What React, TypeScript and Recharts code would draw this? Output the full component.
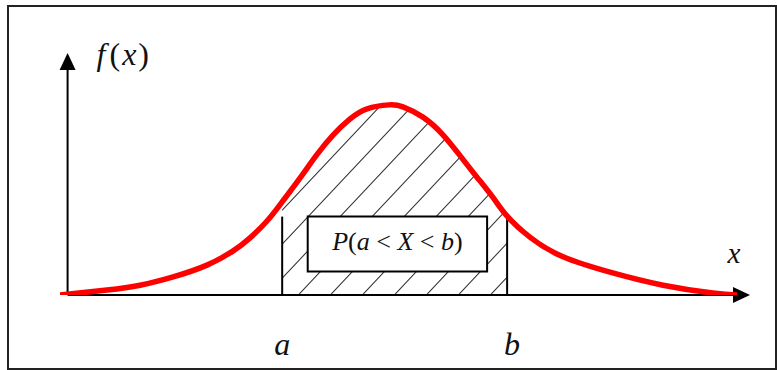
import React from "react";
import { ComposedChart, Line, Area, XAxis, YAxis, ReferenceLine, ReferenceArea } from "recharts";

// density curve f(x), sampled along x in [0, 10]
const xs = [0, 0.68, 1.16, 1.64, 2.13, 2.51, 2.75, 3.0, 3.22, 3.48, 3.72, 3.96, 4.2, 4.45, 4.77, 4.97, 5.26, 5.55, 5.8, 6.04, 6.28, 6.48, 6.81, 7.29, 8.01, 8.74, 9.46, 9.81];
const fx = [0, 0.01, 0.02, 0.037, 0.061, 0.09, 0.116, 0.151, 0.19, 0.239, 0.286, 0.327, 0.359, 0.38, 0.388, 0.384, 0.363, 0.327, 0.284, 0.241, 0.198, 0.161, 0.118, 0.078, 0.045, 0.02, 0.004, 0];

// interval bounds and their tick names
const bounds = [3.22, 6.48];
const boundNames = ["a", "b"];
const boundNudge = [0, 5];
// heights of the vertical edges at a and b
const edgeHeights = [0.16, 0.161];

// probability label box (x range, y range)
const boxX = [3.59, 6.19];
const boxY = [0.048, 0.16];

const xDomain = [0, 10];
const yDomain = [0, 0.5];
const axisStart = 0.11;
const yAxisTop = 0.494;

const [a, b] = bounds;
const data = xs.map((x, i) => ({
    x,
    f: fx[i],
    shade: x >= a && x <= b ? fx[i] : null,
}));

const FONT = "'Liberation Serif', 'DejaVu Serif', serif";

function YArrow(props: any) {
    const { x1, y1, y2 } = props;
    return (
        <g>
            <line x1={x1} y1={y1} x2={x1} y2={y2 + 14} stroke="#000" strokeWidth={2} />
            <polygon points={`${x1},${y2} ${x1 - 8},${y2 + 17} ${x1 + 8},${y2 + 17}`} fill="#000" />
            <text x={x1 + 29} y={y2 + 12} fontFamily={FONT} fontSize={32} fill="#111">
                <tspan fontStyle="italic">f</tspan>
                <tspan dx={4}>(</tspan>
                <tspan dx={2} fontStyle="italic">x</tspan>
                <tspan dx={2}>)</tspan>
            </text>
        </g>
    );
}

function XArrow(props: any) {
    const { x1, y1, x2 } = props;
    return (
        <g>
            <line x1={x1} y1={y1} x2={x2 - 14} y2={y1} stroke="#000" strokeWidth={2} />
            <polygon points={`${x2},${y1} ${x2 - 17},${y1 - 8} ${x2 - 17},${y1 + 8}`} fill="#000" />
            <text x={x2 - 16} y={y1 - 32} textAnchor="middle" fontFamily={FONT} fontStyle="italic" fontSize={29} fill="#111">
                x
            </text>
        </g>
    );
}

function BoundTick(props: any) {
    const { x, y, index } = props;
    return (
        <text x={x + boundNudge[index]} y={y + 60} textAnchor="middle" fontFamily={FONT} fontStyle="italic" fontSize={32} fill="#111">
            {boundNames[index]}
        </text>
    );
}

function BoxLabel(props: any) {
    const { x, y, width, height } = props.viewBox;
    return (
        <text x={x + width / 2} y={y + height / 2 + 6} textAnchor="middle" fontFamily={FONT} fontSize={26} fill="#111">
            <tspan fontStyle="italic">P</tspan>
            <tspan>(</tspan>
            <tspan fontStyle="italic">a</tspan>
            <tspan> &lt; </tspan>
            <tspan fontStyle="italic">X</tspan>
            <tspan> &lt; </tspan>
            <tspan fontStyle="italic">b</tspan>
            <tspan>)</tspan>
        </text>
    );
}

export default function App() {
    return (
        <div style={{ position: "absolute", left: 0, top: 0, width: 777, height: 370, background: "#fff" }}>
            <div style={{ position: "absolute", left: 7, top: 5, width: 766, height: 361, border: "2px solid #222" }} />
            <ComposedChart
                width={777}
                height={370}
                data={data}
                margin={{ top: 50, right: 27, bottom: 0, left: 60 }}
                style={{ position: "absolute", left: 0, top: 0 }}
            >
                <defs>
                    <pattern id="hatch" patternUnits="userSpaceOnUse" width="32" height="34">
                        <path d="M-3.2,37.4 L35.2,-3.4 M-3.2,3.4 L3.2,-3.4 M28.8,37.4 L35.2,30.6" stroke="#333" strokeWidth={1.1} />
                    </pattern>
                </defs>
                <XAxis
                    type="number"
                    dataKey="x"
                    domain={xDomain}
                    ticks={bounds}
                    height={75}
                    axisLine={false}
                    tickLine={false}
                    tickSize={0}
                    tickMargin={0}
                    tick={<BoundTick />}
                    allowDataOverflow
                />
                <YAxis type="number" domain={yDomain} hide allowDataOverflow />
                <Area
                    dataKey="shade"
                    type="natural"
                    fill="url(#hatch)"
                    fillOpacity={1}
                    stroke="none"
                    baseValue={0}
                    isAnimationActive={false}
                />
                {bounds.map((v, i) => (
                    <ReferenceLine
                        key={boundNames[i]}
                        segment={[
                            { x: v, y: 0 },
                            { x: v, y: edgeHeights[i] },
                        ]}
                        stroke="#000"
                        strokeWidth={2}
                    />
                ))}
                <ReferenceArea
                    x1={boxX[0]}
                    x2={boxX[1]}
                    y1={boxY[0]}
                    y2={boxY[1]}
                    fill="#fff"
                    fillOpacity={1}
                    stroke="#000"
                    strokeWidth={2}
                    label={BoxLabel}
                />
                <ReferenceLine
                    segment={[
                        { x: axisStart, y: 0 },
                        { x: axisStart, y: yAxisTop },
                    ]}
                    shape={YArrow}
                />
                <ReferenceLine
                    segment={[
                        { x: axisStart, y: 0 },
                        { x: xDomain[1], y: 0 },
                    ]}
                    shape={XArrow}
                />
                <Line dataKey="f" type="natural" stroke="#ff0000" strokeWidth={5.5} dot={false} isAnimationActive={false} />
            </ComposedChart>
        </div>
    );
}
